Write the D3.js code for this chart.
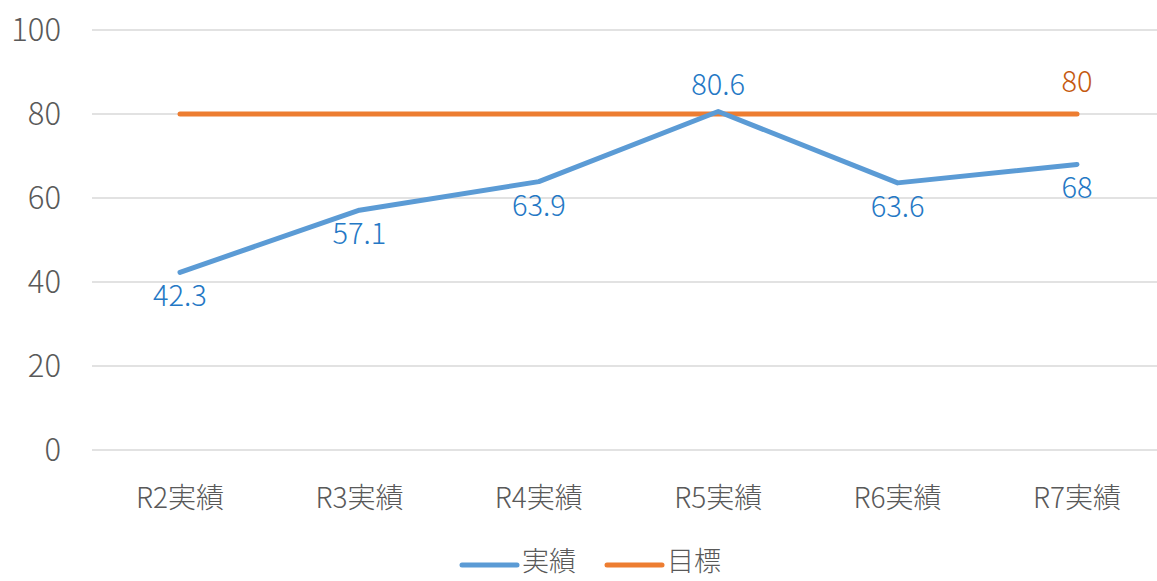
<!DOCTYPE html>
<html lang="ja">
<head>
    <meta charset="UTF-8">
    <title>実績と目標</title>
    <script src="https://cdn.jsdelivr.net/npm/d3@7/dist/d3.min.js"></script>
    <style>
        body { margin: 0; background: #fff; }
        text { font-family: "Noto Sans CJK JP", "Noto Sans", sans-serif; font-weight: 300; }
    </style>
</head>
<body>
<div id="main"></div>
<script>
    // データ
    const categories = ['R2実績', 'R3実績', 'R4実績', 'R5実績', 'R6実績', 'R7実績'];
    const actual = [42.3, 57.1, 63.9, 80.6, 63.6, 68];
    const target = [80, 80, 80, 80, 80, 80];
    const actualLabelSide = ['below', 'below', 'below', 'above', 'below', 'below'];
    const yTicks = [0, 20, 40, 60, 80, 100];

    const W = 1157, H = 581;
    const svg = d3.select('#main').append('svg')
        .attr('width', W).attr('height', H);

    const x = d3.scalePoint().domain(categories).range([180, 1077]);
    const y = d3.scaleLinear().domain([0, 100]).range([450, 30]);

    // グリッド線
    svg.append('g').selectAll('line').data(yTicks).enter().append('line')
        .attr('x1', 92).attr('x2', W)
        .attr('y1', d => y(d)).attr('y2', d => y(d))
        .attr('stroke', '#d9d9d9').attr('stroke-width', 1.5);

    // Y軸ラベル
    svg.append('g').selectAll('text').data(yTicks).enter().append('text')
        .attr('x', 61).attr('y', d => y(d))
        .attr('dy', '0.36em')
        .attr('text-anchor', 'end')
        .attr('fill', '#595959').style('font-size', '31px')
        .text(d => d);

    // X軸ラベル
    svg.append('g').selectAll('text').data(categories).enter().append('text')
        .attr('x', d => x(d)).attr('y', 508)
        .attr('text-anchor', 'middle')
        .attr('fill', '#595959').style('font-size', '28px')
        .text(d => d);

    const line = d3.line().x((d, i) => x(categories[i])).y(d => y(d));

    // 目標
    svg.append('path').datum(target)
        .attr('d', line).attr('fill', 'none')
        .attr('stroke', '#ED7D31').attr('stroke-width', 5)
        .attr('stroke-linecap', 'round').attr('stroke-linejoin', 'round');

    // 実績
    svg.append('path').datum(actual)
        .attr('d', line).attr('fill', 'none')
        .attr('stroke', '#5B9BD5').attr('stroke-width', 5)
        .attr('stroke-linecap', 'round').attr('stroke-linejoin', 'round');

    // 実績ラベル
    svg.append('g').selectAll('text').data(actual).enter().append('text')
        .attr('x', (d, i) => x(categories[i]))
        .attr('y', (d, i) => actualLabelSide[i] === 'below' ? y(d) + 34 : y(d) - 16)
        .attr('text-anchor', 'middle')
        .attr('fill', '#2478C5').style('font-size', '29px')
        .text(d => d);

    // 目標ラベル（最後の点のみ）
    const last = target.length - 1;
    svg.append('text')
        .attr('x', x(categories[last])).attr('y', y(target[last]) - 22)
        .attr('text-anchor', 'middle')
        .attr('fill', '#C55A11').style('font-size', '29px')
        .text(target[last]);

    // 凡例
    const legend = [{name: '実績', color: '#5B9BD5', x: 462}, {name: '目標', color: '#ED7D31', x: 607}];
    const lg = svg.append('g').selectAll('g').data(legend).enter().append('g');
    lg.append('line')
        .attr('x1', d => d.x).attr('x2', d => d.x + 55)
        .attr('y1', 565).attr('y2', 565)
        .attr('stroke', d => d.color).attr('stroke-width', 5)
        .attr('stroke-linecap', 'round');
    lg.append('text')
        .attr('x', d => d.x + 60).attr('y', 571)
        .attr('fill', '#595959').style('font-size', '27px')
        .text(d => d.name);
</script>
</body>
</html>
